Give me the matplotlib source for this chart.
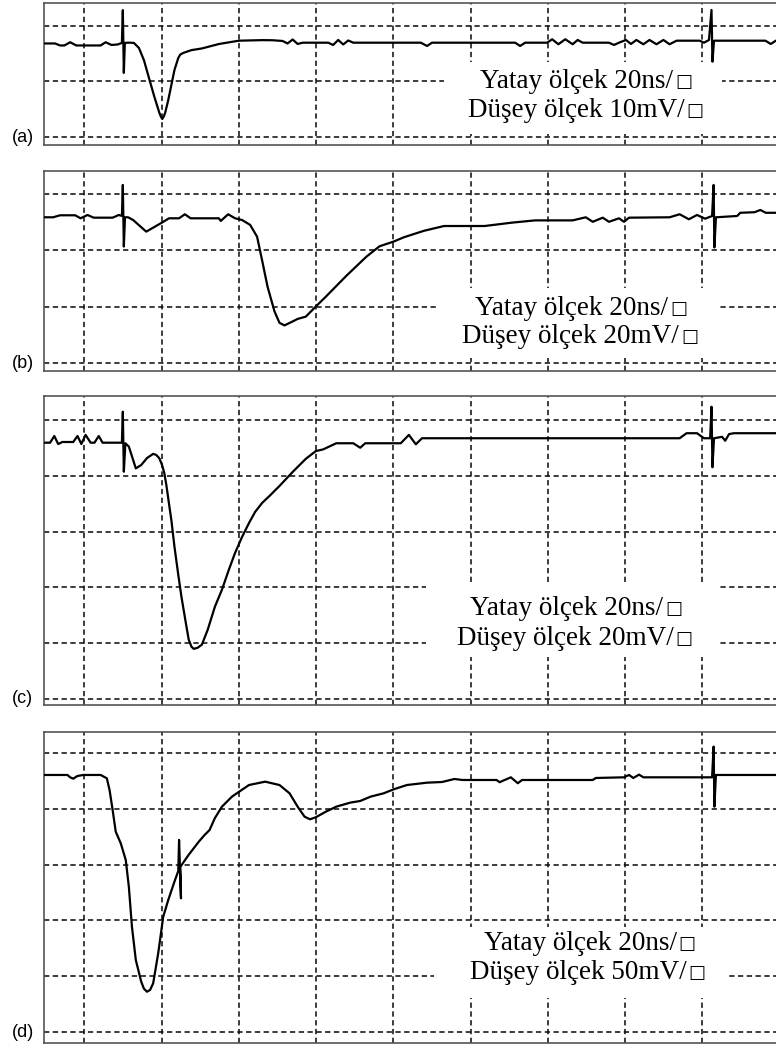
import matplotlib
matplotlib.use("Agg")
import matplotlib.pyplot as plt
from matplotlib.patches import Rectangle

# ---- scope captures: time in ns, voltage in mV relative to the pre-trigger baseline ----
t_a = [9.5, 12.4, 13.7, 14.8, 16.3, 17.9, 24.2, 25.5, 27.0, 28.6,
       29.7, 29.94, 30.2, 30.46, 31.5, 32.8, 34.1, 35.4, 36.7, 38.1,
       39.4, 39.8, 40.15, 40.5, 40.9, 41.7, 42.5, 43.3, 44.3, 44.8,
       45.6, 47.7, 50.4, 54.8, 60.0, 66.0, 68.7, 71.3, 72.6, 73.9,
       75.2, 76.5, 83.1, 84.4, 85.7, 87.0, 88.3, 89.6, 102.7, 107.1,
       108.7, 110.0, 131.5, 132.8, 134.1, 139.8, 141.1, 142.7, 144.5, 146.4,
       147.7, 149.0, 155.8, 157.1, 158.4, 160.2, 161.5, 162.9, 164.7, 166.3,
       168.1, 169.9, 171.5, 173.3, 179.3, 180.4, 181.7, 182.35, 182.6, 183.0,
       196.3, 197.7, 199.0, 201.1]
v_a = [0.0, 0.0, -0.36, -0.36, 0.22, -0.36, -0.36, 0.22, -0.27, -0.18,
       0.1, 6.0, -5.3, 0.1, 0.15, 0.1, -0.8, -3.0, -6.2, -9.6,
       -12.5, -13.2, -13.6, -13.2, -12.5, -10.2, -7.5, -4.8, -2.6, -2.0,
       -1.7, -1.2, -0.9, -0.1, 0.5, 0.6, 0.58, 0.45, 0.0, 0.72,
       -0.09, 0.14, 0.14, -0.27, 0.63, -0.18, 0.54, 0.14, 0.14, 0.14,
       -0.45, 0.14, 0.14, -0.45, 0.14, 0.14, 0.76, -0.14, 0.76, -0.14,
       0.63, 0.14, 0.14, -0.27, 0.14, 0.63, -0.09, 0.63, -0.14, 0.63,
       -0.14, 0.63, -0.14, 0.5, 0.5, 0.14, 0.63, 6.04, -3.28, 0.5,
       0.5, -0.09, 0.5, 0.5]

t_b = [9.5, 11.9, 13.7, 17.6, 19.0, 20.8, 22.4, 27.3, 28.9, 29.7,
       29.94, 30.2, 30.5, 31.3, 32.6, 36.0, 39.8, 41.9, 44.5, 46.0,
       47.5, 54.8, 55.3, 57.2, 59.0, 60.8, 62.9, 64.7, 66.0, 67.4,
       69.2, 70.5, 71.8, 73.9, 75.2, 77.3, 79.9, 82.5, 87.8, 93.0,
       96.4, 100.1, 102.7, 107.9, 113.1, 123.6, 130.7, 136.7, 146.4, 149.8,
       151.6, 154.2, 155.8, 158.4, 159.7, 161.0, 171.5, 174.1, 176.5, 178.6,
       180.7, 182.5, 182.9, 183.1, 183.5, 189.0, 189.8, 193.5, 195.0, 196.4,
       201.1]
v_b = [0.0, 0.0, 0.71, 0.71, -0.36, 0.82, -0.14, -0.14, 0.82, 0.5,
       11.5, -10.4, 0.0, 0.0, -0.96, -5.1, -2.1, -0.36, -0.36, 1.07,
       -0.36, -0.36, -1.3, 1.07, -0.36, -0.96, -2.7, -6.9, -15.3, -24.6,
       -33.4, -37.5, -38.4, -37.0, -36.1, -35.3, -31.7, -28.2, -20.8, -14.0,
       -10.3, -8.6, -7.1, -4.8, -3.1, -3.1, -1.9, -1.1, -1.1, 0.0,
       -1.6, -0.14, -1.6, -0.36, -1.6, -0.14, 0.0, 1.07, -0.7, 0.82,
       -0.5, 0.46, 11.5, -10.7, 0.0, 0.46, 1.6, 1.8, 2.6, 1.6,
       1.6]

t_c = [9.5, 11.1, 12.2, 13.2, 14.3, 17.1, 18.2, 19.2, 20.3, 21.6,
       22.6, 23.7, 24.7, 29.7, 29.94, 30.2, 30.6, 31.5, 33.3, 34.7,
       36.2, 37.8, 38.6, 39.4, 40.1, 40.7, 41.2, 42.0, 42.5, 43.3,
       44.3, 45.1, 46.2, 47.0, 47.7, 48.3, 49.3, 50.4, 51.9, 53.8,
       55.6, 57.4, 59.0, 60.8, 62.6, 64.2, 66.0, 67.9, 70.5, 73.9,
       77.3, 79.9, 81.8, 85.2, 89.6, 91.4, 92.7, 101.9, 104.0, 105.8,
       107.4, 174.1, 175.9, 178.6, 180.4, 182.0, 182.35, 182.6, 183.0, 185.1,
       185.9, 186.9, 188.2, 201.1]
v_c = [0.0, 0.0, 2.4, -0.47, 0.25, 0.25, 2.4, -0.47, 2.8, 0.0,
       0.0, 2.4, 0.0, 0.0, 11.1, -10.4, -0.2, -1.4, -9.2, -8.0,
       -5.5, -4.0, -4.4, -5.6, -8.0, -11.0, -15.1, -22.9, -27.7, -37.2,
       -47.4, -55.1, -64.2, -70.6, -73.1, -73.9, -73.5, -72.4, -67.1, -58.7,
       -52.7, -45.5, -39.5, -33.8, -28.8, -24.8, -21.6, -19.1, -15.5, -10.5,
       -5.8, -3.0, -2.4, -0.2, -0.2, -1.8, -0.2, -0.2, 2.8, -0.57,
       1.6, 1.6, 3.4, 3.4, 1.6, 1.6, 12.9, -8.8, 1.6, 2.1,
       0.7, 3.1, 3.4, 3.4]

t_d = [9.5, 15.6, 16.3, 17.1, 18.2, 19.7, 24.2, 25.8, 26.5, 27.3,
       28.1, 29.4, 30.7, 31.5, 32.3, 33.3, 34.7, 35.4, 36.2, 37.0,
       37.8, 39.1, 40.4, 41.7, 43.3, 44.3, 44.5, 45.0, 44.8, 46.95,
       49.6, 51.1, 52.4, 53.75, 55.6, 58.2, 62.6, 66.8, 70.5, 73.1,
       75.2, 77.0, 78.4, 79.9, 82.5, 85.2, 88.8, 91.4, 94.1, 97.5,
       100.1, 103.5, 108.7, 112.6, 115.8, 117.9, 126.7, 127.5, 128.8, 130.4,
       132.2, 133.3, 151.6, 152.4, 159.7, 161.0, 162.1, 163.6, 164.7, 182.5,
       182.9, 183.1, 183.5, 201.1]
v_d = [0.0, 0.0, -2.1, -3.3, -0.9, 0.0, 0.0, -3.0, -13.4, -31.4,
       -50.8, -61.2, -76.2, -100.2, -136.0, -165.8, -185.2, -191.5, -194.2, -192.6,
       -186.6, -159.7, -127.0, -112.0, -95.6, -86.0, -58.2, -110.5, -82.5, -71.7,
       -59.8, -53.8, -49.3, -38.8, -28.4, -19.4, -9.0, -6.0, -9.0, -16.4,
       -28.4, -37.4, -39.7, -37.9, -32.9, -28.4, -24.8, -23.3, -19.4, -16.4,
       -12.8, -9.0, -6.9, -6.3, -3.6, -4.5, -4.5, -6.5, -4.5, -2.1,
       -7.4, -4.5, -4.5, -2.7, -2.1, 0.0, -2.7, 0.3, -2.1, -2.1,
       25.4, -28.4, 0.0, 0.0]

panel_labels = ["(a)", "(b)", "(c)", "(d)"]
h_scale_text = "Yatay ölçek 20ns/□"
v_scale_text = ["Düşey ölçek 10mV/□", "Düşey ölçek 20mV/□",
                "Düşey ölçek 20mV/□", "Düşey ölçek 50mV/□"]
mv_per_div = [10, 20, 20, 50]
ns_per_div = 20

traces = [(t_a, v_a), (t_b, v_b), (t_c, v_c), (t_d, v_d)]

# ---- layout (figure pixels are 776 x 1050) ----
W, H = 776, 1050
# (top, bottom) of each screen in pixels
frames = [(3, 145), (171, 371), (396, 705), (732, 1043)]
# visible range in divisions above the lowest graticule line
ylims = [(-0.144, 2.414), (-0.142, 3.41), (-0.108, 5.43), (-0.197, 5.376)]
n_hlines = [3, 4, 6, 6]
# baseline height (divisions) of each trace
baselines = [1.685, 2.588, 4.593, 4.606]
# white label boxes: (t0, t1, y0, y1)
boxes = [(113.1, 185.1, 0.054, 1.351), (111.3, 183.8, 0.089, 1.332),
         (108.4, 183.8, 0.753, 2.097), (110.5, 186.4, 0.609, 1.882)]
# scale text: (split x line 1, baseline line 1, split x line 2, baseline line 2)
text_pos = [(172.5, 0.877, 175.4, 0.355), (171.1, 0.853, 174.0, 0.35),
            (169.8, 1.505, 172.5, 0.968), (173.3, 1.47, 175.9, 0.944)]
xlim = (9.53, 201.06)
left_px = 44

fig = plt.figure(figsize=(W / 100, H / 100), dpi=100)
serif = ["Liberation Serif", "DejaVu Serif"]
TEXT_FS = 19.5
BOX_FS = 13
GRID_KW = dict(color="#111111", lw=1.15, dashes=(3.3, 2.2), zorder=1)


def scale_line(ax, x_split, y, text):
    """Draw a scale line: the words right-aligned at x_split, the unit square after it."""
    words = text.rstrip("□")
    ax.text(x_split, y, words, ha="right", va="baseline", fontsize=TEXT_FS,
            family=serif, zorder=3)
    ax.annotate("□", xy=(x_split, y), xytext=(1.5, 1.0), textcoords="offset points",
                ha="left", va="baseline", fontsize=BOX_FS,
                family=["DejaVu Serif"], zorder=3)


for i, ((top, bot), (t, v)) in enumerate(zip(frames, traces)):
    ax = fig.add_axes([left_px / W, 1 - bot / H, (W - left_px) / W + 0.01, (bot - top) / H])
    ax.set_xlim(*xlim)
    ax.set_ylim(*ylims[i])

    # dashed graticule
    for k in range(1, 11):
        ax.axvline(k * ns_per_div, **GRID_KW)
    for k in range(n_hlines[i]):
        ax.axhline(k, **GRID_KW)

    # label box hides the graticule behind the scale text
    x0, x1, y0, y1 = boxes[i]
    ax.add_patch(Rectangle((x0, y0), x1 - x0, y1 - y0, facecolor="white",
                           edgecolor="none", zorder=2))
    xs1, ys1, xs2, ys2 = text_pos[i]
    scale_line(ax, xs1, ys1, h_scale_text)
    scale_line(ax, xs2, ys2, v_scale_text[i])

    y = [baselines[i] + val / mv_per_div[i] for val in v]
    ax.plot(t, y, color="black", lw=1.6, solid_joinstyle="round",
            solid_capstyle="round", zorder=4)

    ax.set_xticks([])
    ax.set_yticks([])
    for side in ("top", "bottom", "left"):
        ax.spines[side].set_color("#555555")
        ax.spines[side].set_linewidth(1.2)
    ax.spines["right"].set_visible(False)

    frac0 = (0 - ylims[i][0]) / (ylims[i][1] - ylims[i][0])
    fig.text(12 / W, 1 - (bot - frac0 * (bot - top)) / H,
             panel_labels[i], ha="left", va="center", fontsize=13,
             family=["Liberation Sans", "DejaVu Sans"])

fig.savefig("out.png", dpi=100)
